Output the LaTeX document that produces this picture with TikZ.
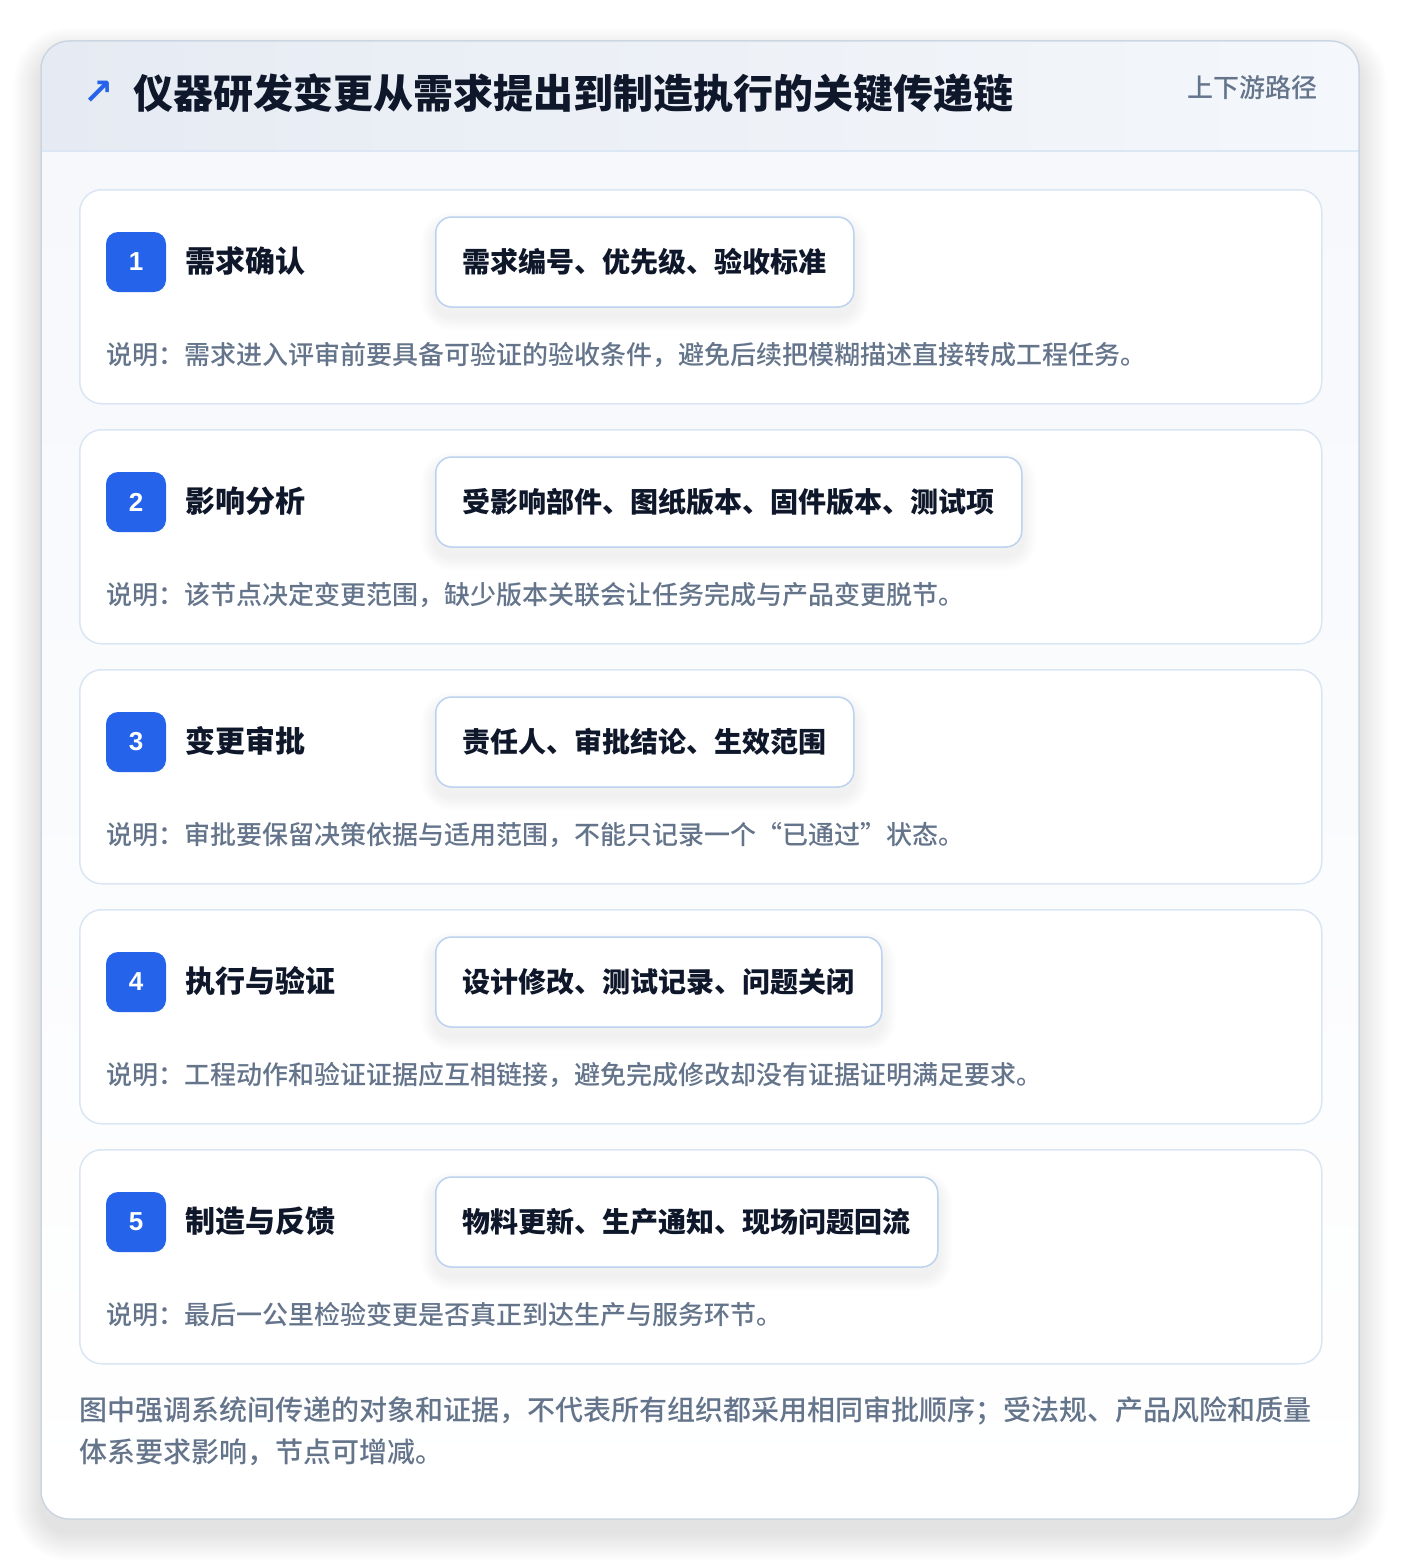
\documentclass[tikz,border=0pt]{standalone}
\usepackage{fontspec}
\setmainfont{Noto Sans CJK SC}
\newfontfamily\cjkmed{Noto Sans CJK SC Medium}
\newfontfamily\arrowfont{DejaVu Sans}
\newfontfamily\numfont{Liberation Sans}
\definecolor{pagebg}{HTML}{FFFFFF}
\definecolor{cardtop}{HTML}{F6F8FC}
\definecolor{hdrL}{HTML}{E6EBF3}
\definecolor{hdrR}{HTML}{F4F7FB}
\definecolor{hdrline}{HTML}{DCE7F5}
\definecolor{outerborder}{HTML}{CCD6E2}
\definecolor{cardborder}{HTML}{DBE6F4}
\definecolor{chipborder}{HTML}{BCD2EF}
\definecolor{accent}{HTML}{2563EB}
\definecolor{ink}{HTML}{0F172A}
\definecolor{slate}{HTML}{64748B}
\pgfdeclarelayer{back}
\pgfdeclarelayer{shad}
\pgfsetlayers{back,shad,main}
\tikzset{
  cardbox/.style={draw=cardborder,line width=1.5pt,fill=white,rounded corners=22pt,
    minimum width=1242pt,minimum height=214pt,anchor=north west,inner sep=0pt},
  badge/.style={fill=accent,text=white,rounded corners=12pt,minimum size=60pt,inner sep=0pt,
    font=\numfont\bfseries\fontsize{26}{30}\selectfont},
  steptitle/.style={anchor=west,inner sep=0pt,text=ink,font=\bfseries\fontsize{30}{36}\selectfont},
  chip/.style={draw=chipborder,line width=1.5pt,fill=white,rounded corners=16pt,anchor=west,
    inner xsep=27pt,inner ysep=0pt,minimum height=90pt,text=ink,font=\bfseries\fontsize{28}{34}\selectfont},
  desc/.style={anchor=west,inner sep=0pt,text=slate,font=\cjkmed\fontsize{26}{32}\selectfont},
  foot/.style={anchor=west,inner sep=0pt,text=slate,font=\cjkmed\fontsize{28}{34}\selectfont},
}
\begin{document}
\begin{tikzpicture}[x=1pt,y=-1pt]
\useasboundingbox (0,0) rectangle (1400,1560);
\begin{pgfonlayer}{back}
\fill[pagebg] (0,0) rectangle (1400,1560);
% outer shadow
\foreach \i in {1,...,28} {
  \pgfmathsetmacro\rr{28+\i}
  \fill[black,opacity=0.0028,rounded corners=\rr pt] (41-\i,41-\i+14) rectangle (1359+\i,1519+\i+14);
}
\begin{scope}
  \clip[rounded corners=28pt] (41,41) rectangle (1359,1519);
  \shade[top color=cardtop,bottom color=white] (41,151) rectangle (1359,1519);
  \shade[left color=hdrL,right color=hdrR] (41,41) rectangle (1359,151);
\end{scope}
\draw[hdrline,line width=1.5pt] (41,151) -- (1359,151);
\draw[outerborder,line width=1.5pt,rounded corners=28pt] (41,41) rectangle (1359,1519);
\foreach \i in {1,...,5} {
  \pgfmathsetmacro\tp{189+240*(\i-1)}
  \node[cardbox] (card\i) at (79,\tp) {};
}
\end{pgfonlayer}

\node[anchor=center,inner sep=0pt,text=accent,font=\arrowfont\bfseries\fontsize{36}{40}\selectfont] (arrow) at (99,93) {↗};
\node[anchor=west,inner sep=0pt,text=ink,font=\bfseries\fontsize{40}{48}\selectfont] (title) at (133,93) {仪器研发变更从需求提出到制造执行的关键传递链};
\node[anchor=east,inner sep=0pt,text=slate,font=\cjkmed\fontsize{26}{32}\selectfont] (tag) at (1318,88) {上下游路径};

\foreach \i/\ttl/\chiptext/\desctext in {
  1/需求确认/需求编号、优先级、验收标准/说明：需求进入评审前要具备可验证的验收条件，避免后续把模糊描述直接转成工程任务。,
  2/影响分析/受影响部件、图纸版本、固件版本、测试项/说明：该节点决定变更范围，缺少版本关联会让任务完成与产品变更脱节。,
  3/变更审批/责任人、审批结论、生效范围/说明：审批要保留决策依据与适用范围，不能只记录一个“已通过”状态。,
  4/执行与验证/设计修改、测试记录、问题关闭/说明：工程动作和验证证据应互相链接，避免完成修改却没有证据证明满足要求。,
  5/制造与反馈/物料更新、生产通知、现场问题回流/说明：最后一公里检验变更是否真正到达生产与服务环节。} {
  \pgfmathsetmacro\tp{189+240*(\i-1)}
  \node[badge] (badge\i) at (136,\tp+73) {\i};
  \node[steptitle] (step\i) at (185,\tp+72) {\ttl};
  \node[chip] (chip\i) at (435,\tp+73) {\chiptext};
  \node[desc] (desc\i) at (106,\tp+166) {\desctext};
  \begin{pgfonlayer}{shad}
    \foreach \j in {1,...,14} {
      \pgfmathsetmacro\rr{16+\j}
      \fill[black,opacity=0.0045,rounded corners=\rr pt]
        ([xshift=-\j pt,yshift=\j pt-9pt]chip\i.north west) rectangle ([xshift=\j pt,yshift=-\j pt-9pt]chip\i.south east);
    }
  \end{pgfonlayer}
}

\node[foot] (foot1) at (79,1411) {图中强调系统间传递的对象和证据，不代表所有组织都采用相同审批顺序；受法规、产品风险和质量};
\node[foot] (foot2) at (79,1452) {体系要求影响，节点可增减。};
\end{tikzpicture}
\end{document}
